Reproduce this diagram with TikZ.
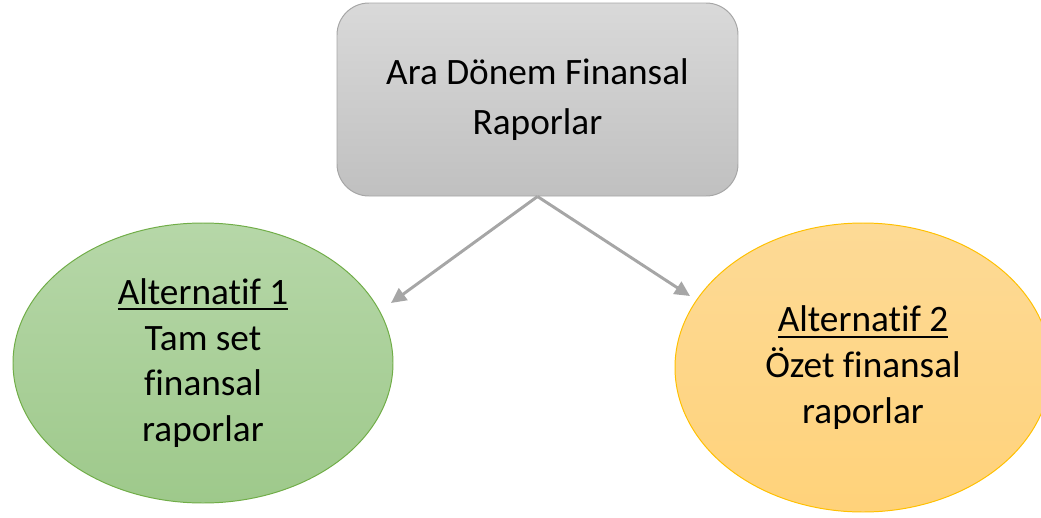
\documentclass[tikz,border=0pt]{standalone}
\usepackage{fontspec}
\setmainfont{Carlito}[Ligatures=NoCommon]
\usepackage{tikz}
\usetikzlibrary{arrows.meta,shapes.geometric}
\definecolor{boxtop}{RGB}{217,217,217}
\definecolor{boxbot}{RGB}{192,192,192}
\definecolor{boxline}{RGB}{166,166,166}
\definecolor{grtop}{RGB}{182,215,168}
\definecolor{grbot}{RGB}{158,201,139}
\definecolor{grline}{RGB}{112,173,71}
\definecolor{ortop}{RGB}{253,218,150}
\definecolor{orbot}{RGB}{255,210,122}
\definecolor{orline}{RGB}{255,192,0}
\tikzstyle{arrow} = [line width=2.1pt,-{Triangle[length=0.38cm,width=0.36cm]},color=boxline]
\tikzstyle{report} = [rectangle,rounded corners=0.8cm,draw=boxline,line width=0.7pt,top color=boxtop,bottom color=boxbot,minimum width=10.025cm,minimum height=4.825cm,align=center,font=\fontsize{26.5}{35}\selectfont]
\tikzstyle{alt} = [ellipse,line width=0.7pt,inner sep=0pt,align=center,font=\fontsize{26.5}{32.5}\selectfont]
% underline as in the source
\newcommand{\altul}[1]{\setbox0\hbox{#1}\rlap{\rule[-0.16em]{\wd0}{0.055em}}#1}

\begin{document}
\begin{tikzpicture}
\useasboundingbox (0,0) rectangle (26.025,-12.925);

% Main report
\node[report] (ara) at (13.4375,-2.4875) {Ara Dönem Finansal\\Raporlar};

% Alternatives
\node[alt,draw=grline,top color=grtop,bottom color=grbot,minimum width=9.5cm,minimum height=7cm] (alt1) at (5.075,-9.075)
  {\altul{Alternatif 1}\\Tam set\\finansal\\raporlar};
\node[alt,draw=orline,top color=ortop,bottom color=orbot,minimum width=9.4cm,minimum height=7.225cm] (alt2) at (21.575,-9.1875)
  {\altul{Alternatif 2}\\Özet finansal\\raporlar};

% Arrow ends
\coordinate (tip1) at (9.775,-7.575);
\coordinate (tip2) at (17.25,-7.4);
\draw[arrow] (ara.south) -- (tip1);
\draw[arrow] (ara.south) -- (tip2);
\end{tikzpicture}
\end{document}
